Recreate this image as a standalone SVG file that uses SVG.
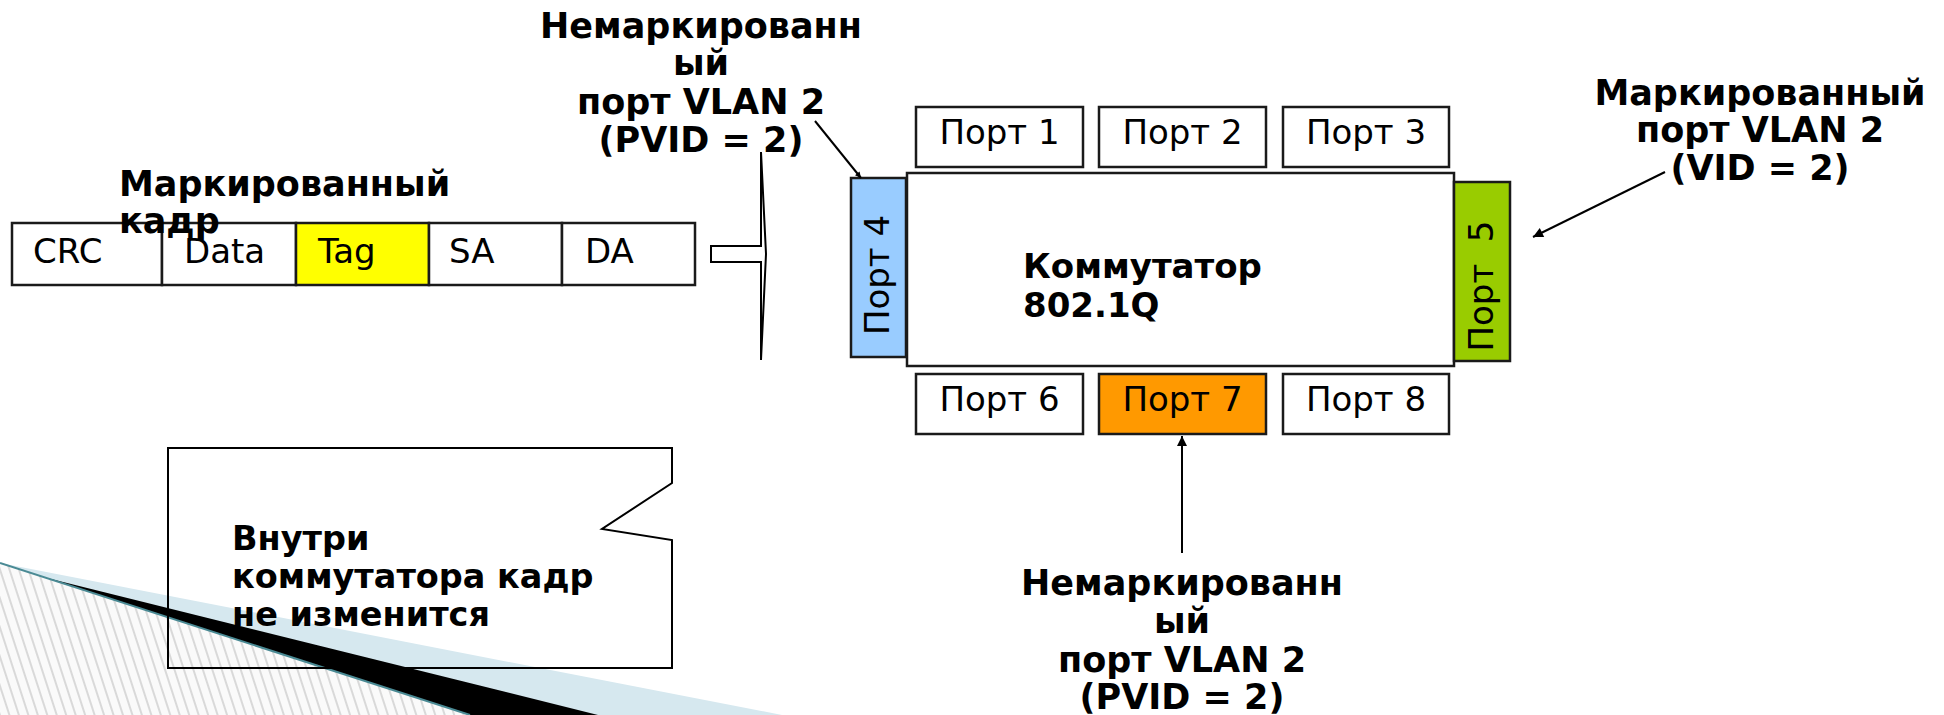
<svg xmlns="http://www.w3.org/2000/svg" width="1944" height="715" viewBox="0 0 1944 715">
  <style>
    .box{fill:#fff;stroke:#1a1a1a;stroke-width:2.5}
    .t{font-family:"DejaVu Sans",Verdana,sans-serif;font-size:34px;fill:#000}
    .b{font-family:"DejaVu Sans",Verdana,sans-serif;font-size:35px;font-weight:bold;fill:#000}
    .c{text-anchor:middle}
    .ln{stroke:#000;stroke-width:2;fill:none}
  </style>
  <defs>
    <pattern id="hatch" patternUnits="userSpaceOnUse" width="9" height="9" patternTransform="rotate(-18)">
      <rect width="9" height="9" fill="#fafafa"/>
      <line x1="4" y1="0" x2="4" y2="9" stroke="#b8b8b8" stroke-width="1"/>
    </pattern>
    <marker id="ah" viewBox="0 0 10 10" refX="10" refY="5" markerUnits="userSpaceOnUse" markerWidth="13" markerHeight="10" orient="auto">
      <path d="M0,0 L10,5 L0,10 Z" fill="#000"/>
    </marker>
    <marker id="ahs" viewBox="0 0 10 10" refX="10" refY="5" markerUnits="userSpaceOnUse" markerWidth="7" markerHeight="6" orient="auto">
      <path d="M0,0 L10,5 L0,10 Z" fill="#000"/>
    </marker>
  </defs>

  <!-- corner decoration -->
  <g id="decor">
    <polygon points="0,563 470,715 0,715" fill="url(#hatch)"/>
    <polygon points="0,563 782,715 470,715" fill="#d6e8ef"/>
    <polygon points="43,577 598,715 470,715" fill="#000"/>
    <line x1="0" y1="563" x2="470" y2="715" stroke="#4a8a94" stroke-width="2"/>
  </g>

  <!-- tagged frame -->
  <g id="frame">
    <rect class="box" x="12" y="223" width="150" height="62"/>
    <rect class="box" x="162" y="223" width="134" height="62"/>
    <rect class="box" x="296" y="223" width="133" height="62" style="fill:#ffff00"/>
    <rect class="box" x="429" y="223" width="133" height="62"/>
    <rect class="box" x="562" y="223" width="133" height="62"/>
    <text class="t" x="33" y="263">CRC</text>
    <text class="t" x="184" y="263">Data</text>
    <text class="t" x="318" y="263">Tag</text>
    <text class="t" x="449" y="263">SA</text>
    <text class="t" x="585" y="263">DA</text>
  </g>
  <g id="frame-label">
    <text class="b" x="119" y="196">Маркированный</text>
    <text class="b" x="119" y="233">кадр</text>
  </g>

  <!-- block arrow into the switch -->
  <g id="block-arrow">
    <path d="M711,246 H761 V152 L766,254 L761,360 V262 H711 Z" fill="#fff" stroke="#000" stroke-width="2" stroke-linejoin="miter"/>
  </g>

  <!-- switch -->
  <g id="switch">
    <rect class="box" x="907" y="173" width="547" height="193"/>
    <text class="b" x="1023" y="278" style="font-size:34px">Коммутатор</text>
    <text class="b" x="1023" y="317" style="font-size:34px">802.1Q</text>
  </g>
  <g id="port1"><rect class="box" x="916" y="107" width="167" height="60"/><text class="t c" x="999.5" y="144">Порт 1</text></g>
  <g id="port2"><rect class="box" x="1099" y="107" width="167" height="60"/><text class="t c" x="1182.5" y="144">Порт 2</text></g>
  <g id="port3"><rect class="box" x="1283" y="107" width="166" height="60"/><text class="t c" x="1366" y="144">Порт 3</text></g>
  <g id="port6"><rect class="box" x="916" y="374" width="167" height="60"/><text class="t c" x="999.5" y="411">Порт 6</text></g>
  <g id="port7"><rect class="box" x="1099" y="374" width="167" height="60" style="fill:#ff9900"/><text class="t c" x="1182.5" y="411">Порт 7</text></g>
  <g id="port8"><rect class="box" x="1283" y="374" width="166" height="60"/><text class="t c" x="1366" y="411">Порт 8</text></g>
  <g id="port4"><rect class="box" x="851" y="178" width="55" height="179" style="fill:#99ccff"/><text class="t c" transform="translate(889,275) rotate(-90)">Порт 4</text></g>
  <g id="port5"><rect class="box" x="1454" y="182" width="56" height="179" style="fill:#99cc00"/><text class="t c" transform="translate(1493,286) rotate(-90)" xml:space="preserve">Порт  5</text></g>

  <!-- port descriptions -->
  <g id="label-port4">
    <text class="b c" x="701" y="38">Немаркированн</text>
    <text class="b c" x="701" y="75">ый</text>
    <text class="b c" x="701" y="114">порт VLAN 2</text>
    <text class="b c" x="701" y="152">(PVID = 2)</text>
  </g>
  <g id="label-port5">
    <text class="b c" x="1760" y="105">Маркированный</text>
    <text class="b c" x="1760" y="142">порт VLAN 2</text>
    <text class="b c" x="1760" y="180">(VID = 2)</text>
  </g>
  <g id="label-port7">
    <text class="b c" x="1182" y="595">Немаркированн</text>
    <text class="b c" x="1182" y="633">ый</text>
    <text class="b c" x="1182" y="672">порт VLAN 2</text>
    <text class="b c" x="1182" y="709">(PVID = 2)</text>
  </g>

  <!-- note callout -->
  <g id="note">
    <path d="M168,448 H672 V483 L602,529 L672,540 V668 H168 Z" fill="none" stroke="#000" stroke-width="2"/>
    <text class="b" x="232" y="550" style="font-size:33.5px">Внутри</text>
    <text class="b" x="232" y="588" style="font-size:33.5px">коммутатора кадр</text>
    <text class="b" x="232" y="626" style="font-size:33.5px">не изменится</text>
  </g>

  <!-- connectors -->
  <g id="connectors">
    <line class="ln" x1="815" y1="121" x2="861" y2="178" marker-end="url(#ahs)"/>
    <line class="ln" x1="1665" y1="172" x2="1533" y2="237" marker-end="url(#ah)"/>
    <line class="ln" x1="1182" y1="553" x2="1182" y2="436" marker-end="url(#ah)"/>
  </g>
</svg>
